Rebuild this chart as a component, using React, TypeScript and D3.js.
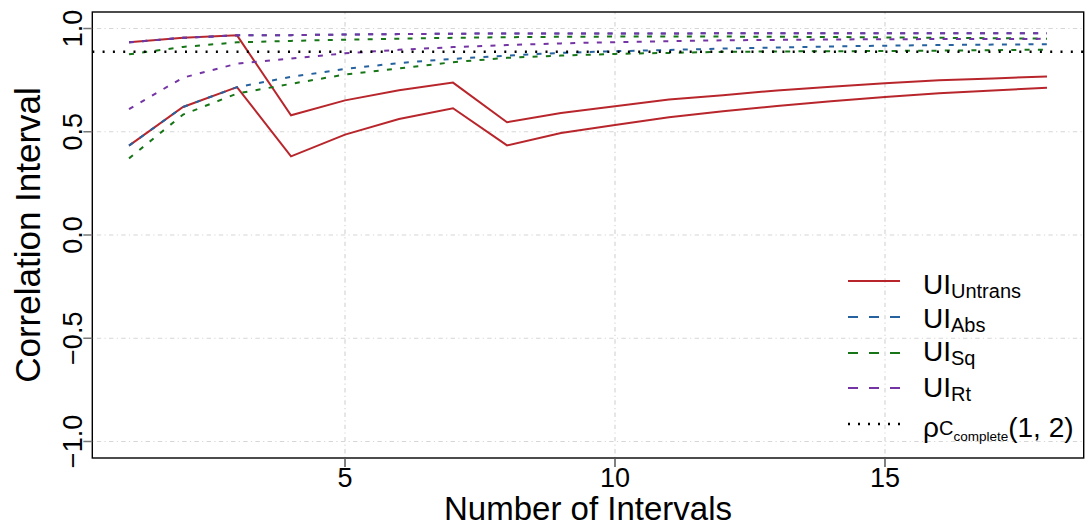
import React from "react";
import * as d3 from "d3";

const xs = [1, 2, 3, 4, 5, 6, 7, 8, 9, 10, 11, 12, 13, 14, 15, 16, 17, 18];

const untransUpper = [0.933, 0.955, 0.967, 0.58, 0.652, 0.701, 0.738, 0.546, 0.591, 0.623, 0.656, 0.677, 0.7, 0.718, 0.735, 0.749, 0.758, 0.768];
const untransLower = [0.433, 0.62, 0.716, 0.381, 0.486, 0.562, 0.614, 0.434, 0.494, 0.533, 0.57, 0.599, 0.625, 0.648, 0.668, 0.686, 0.7, 0.713];

const absUpper = [0.933, 0.955, 0.967, 0.968, 0.971, 0.973, 0.975, 0.976, 0.976, 0.976, 0.976, 0.977, 0.977, 0.977, 0.977, 0.977, 0.977, 0.977];
const absLower = [0.433, 0.62, 0.716, 0.766, 0.804, 0.833, 0.853, 0.869, 0.882, 0.89, 0.896, 0.903, 0.908, 0.913, 0.917, 0.92, 0.922, 0.924];

const sqUpper = [0.875, 0.911, 0.933, 0.94, 0.946, 0.951, 0.955, 0.958, 0.96, 0.961, 0.961, 0.961, 0.96, 0.959, 0.957, 0.955, 0.953, 0.951];
const sqLower = [0.371, 0.583, 0.685, 0.732, 0.777, 0.807, 0.837, 0.858, 0.869, 0.877, 0.882, 0.887, 0.889, 0.89, 0.891, 0.893, 0.895, 0.898];

const rtUpper = [0.933, 0.955, 0.967, 0.968, 0.971, 0.973, 0.975, 0.976, 0.976, 0.976, 0.976, 0.977, 0.977, 0.977, 0.977, 0.977, 0.977, 0.977];
const rtLower = [0.61, 0.762, 0.83, 0.855, 0.88, 0.897, 0.91, 0.92, 0.928, 0.934, 0.939, 0.943, 0.945, 0.947, 0.948, 0.949, 0.949, 0.95];

const rhoComplete = 0.888;

const xTicks = [5, 10, 15];
const yTicks = [-1, -0.5, 0, 0.5, 1];
const yTickLabels = ["\u22121.0", "\u22120.5", "0.0", "0.5", "1.0"];

const RED = "#B8262C";
const BLUE = "#25629F";
const GREEN = "#167516";
const PURPLE = "#7434A4";

const FONT = "'Liberation Sans', Arial, Helvetica, sans-serif";

const series = [
  { vals: untransUpper, color: RED, dash: null },
  { vals: untransLower, color: RED, dash: null },
  { vals: absUpper, color: BLUE, dash: "5 8.3" },
  { vals: absLower, color: BLUE, dash: "5 8.3" },
  { vals: sqUpper, color: GREEN, dash: "5 8.3" },
  { vals: sqLower, color: GREEN, dash: "5 8.3" },
  { vals: rtUpper, color: PURPLE, dash: "5 8.3" },
  { vals: rtLower, color: PURPLE, dash: "5 8.3" },
];

export default function App() {
  const W = 1088;
  const H = 526;
  const x = d3.scaleLinear().domain([0.32, 18.68]).range([92.3, 1083.7]);
  const y = d3.scaleLinear().domain([-1.08, 1.08]).range([458, 12]);
  const [x0, x1] = x.range();
  const [yb, yt] = y.range();

  const line = d3
    .line<number>()
    .x((_, i) => x(xs[i]))
    .y((d) => y(d));

  const grid = "#d6d6d6";
  const gridDash = "1.2 3.3 4.4 3.3";

  const legendRows = [
    { ly: 281, base: 12.5, color: RED, dash: null, main: "UI", sub: "Untrans" },
    { ly: 317, base: 11, color: BLUE, dash: "10 11", main: "UI", sub: "Abs" },
    { ly: 353, base: 7.5, color: GREEN, dash: "10 11", main: "UI", sub: "Sq" },
    { ly: 388, base: 8.5, color: PURPLE, dash: "10 11", main: "UI", sub: "Rt" },
  ];

  return (
    <svg
      width={W}
      height={H}
      style={{ position: "absolute", left: 0, top: 0, background: "#fff" }}
      fontFamily={FONT}
    >
      <rect x={0} y={0} width={W} height={H} fill="#fff" />
      {yTicks.map((t) => (
        <line key={"gy" + t} x1={x0} x2={x1} y1={y(t)} y2={y(t)} stroke={grid} strokeWidth={1.2} strokeDasharray={gridDash} />
      ))}
      {xTicks.map((t) => (
        <line key={"gx" + t} x1={x(t)} x2={x(t)} y1={yb} y2={yt} stroke={grid} strokeWidth={1.2} strokeDasharray={gridDash} />
      ))}

      {series.map((s, i) => (
        <path
          key={i}
          d={line(s.vals) || ""}
          fill="none"
          stroke={s.color}
          strokeWidth={2}
          strokeDasharray={s.dash || undefined}
        />
      ))}
      <line x1={x0} x2={x1} y1={y(rhoComplete)} y2={y(rhoComplete)} stroke="#000" strokeWidth={2.5} strokeDasharray="2 8.3" />

      <rect x={x0} y={yt} width={x1 - x0} height={yb - yt} fill="none" stroke="#000" strokeWidth={1.4} />

      {yTicks.map((t, i) => (
        <g key={"yt" + t}>
          <line x1={x0 - 9} x2={x0} y1={y(t)} y2={y(t)} stroke="#777" strokeWidth={1.5} />
          <text
            transform={`translate(82,${y(t)}) rotate(-90)`}
            textAnchor="middle"
            fontSize={27}
            fill="#000"
          >
            {yTickLabels[i]}
          </text>
        </g>
      ))}
      {xTicks.map((t) => (
        <g key={"xt" + t}>
          <line x1={x(t)} x2={x(t)} y1={yb} y2={yb + 9} stroke="#555" strokeWidth={1.5} />
          <text x={x(t)} y={487} textAnchor="middle" fontSize={27} fill="#000">
            {t}
          </text>
        </g>
      ))}

      <text x={(x0 + x1) / 2} y={520} textAnchor="middle" fontSize={33} fill="#000">
        Number of Intervals
      </text>
      <text
        transform={`translate(40,${(yt + yb) / 2}) rotate(-90)`}
        textAnchor="middle"
        fontSize={35}
        fill="#000"
      >
        Correlation Interval
      </text>

      {legendRows.map((r) => (
        <g key={r.sub}>
          <line x1={848} x2={900} y1={r.ly} y2={r.ly} stroke={r.color} strokeWidth={2} strokeDasharray={r.dash || undefined} />
          <text x={923} y={r.ly + r.base} fontSize={28} fill="#000">
            {r.main}
            <tspan fontSize={20} dy={4}>{r.sub}</tspan>
          </text>
        </g>
      ))}
      <line x1={848} x2={900} y1={424} y2={424} stroke="#000" strokeWidth={2.5} strokeDasharray="2 8" />
      <text x={923} y={437} fontSize={28} fill="#000">
        ρ
        <tspan fontSize={20} dy={-2}>C</tspan>
        <tspan fontSize={13.5} dy={6}>complete</tspan>
        <tspan fontSize={28} dy={-4}>(1, 2)</tspan>
      </text>
    </svg>
  );
}
